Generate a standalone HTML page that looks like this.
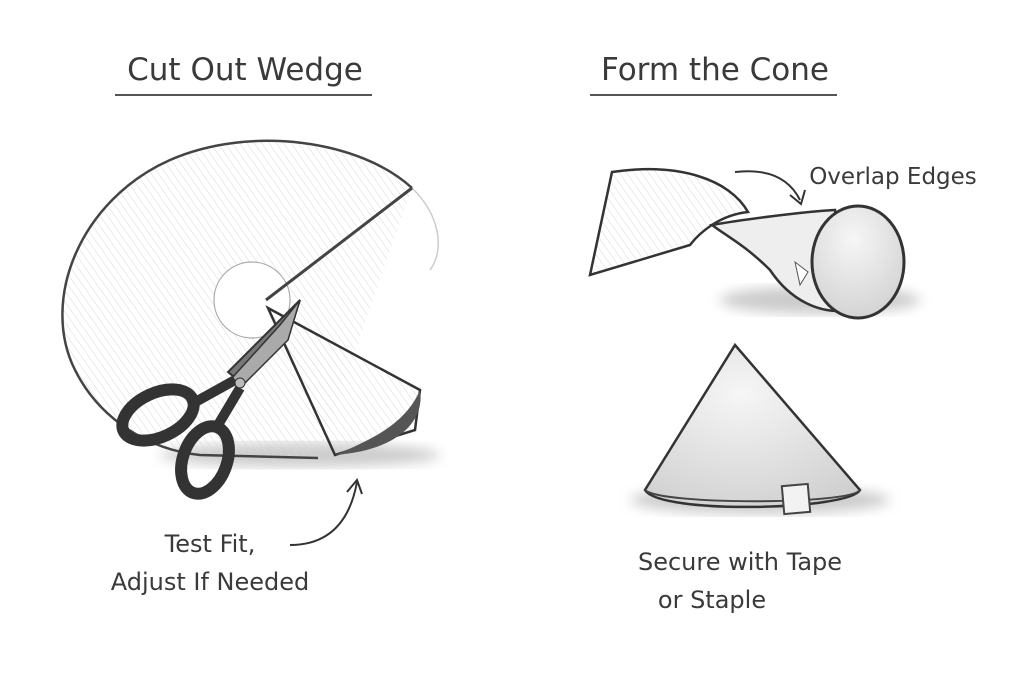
<!DOCTYPE html>
<html><head><meta charset="utf-8"><style>
html,body{margin:0;padding:0;background:#fff;}
svg{display:block}
text{font-family:"DejaVu Sans","Liberation Sans",sans-serif;fill:#3a3a3a}
</style></head><body>
<svg width="1024" height="683" viewBox="0 0 1024 683" xmlns="http://www.w3.org/2000/svg">
<defs>
<pattern id="h" width="6" height="6" patternUnits="userSpaceOnUse" patternTransform="rotate(-35)">
<line x1="0" y1="0" x2="0" y2="6" stroke="#d8d8d8" stroke-width="1"/></pattern>
<radialGradient id="cone" cx="0.45" cy="0.3" r="0.8"><stop offset="0" stop-color="#f6f6f6"/><stop offset="1" stop-color="#cfcfcf"/></radialGradient>
<filter id="b"><feGaussianBlur stdDeviation="6"/></filter>
</defs>
<!-- titles -->
<text x="245" y="80" font-size="31" text-anchor="middle">Cut Out Wedge</text>
<line x1="115" y1="95" x2="372" y2="95" stroke="#555" stroke-width="2"/>
<text x="715" y="80" font-size="31" text-anchor="middle">Form the Cone</text>
<line x1="590" y1="95" x2="837" y2="95" stroke="#555" stroke-width="2"/>

<!-- shadows -->
<ellipse cx="300" cy="455" rx="140" ry="12" fill="#ccc" filter="url(#b)"/>
<ellipse cx="760" cy="500" rx="130" ry="14" fill="#ccc" filter="url(#b)"/>
<ellipse cx="820" cy="300" rx="100" ry="14" fill="#ccc" filter="url(#b)"/>

<!-- left disk -->
<path d="M412,188 C360,140 250,125 170,160 C80,200 40,300 75,370 C100,420 150,450 200,455 L318,458" fill="url(#h)" stroke="#444" stroke-width="2.5"/>
<path d="M412,188 C440,215 445,250 430,270" fill="none" stroke="#ccc" stroke-width="1.5"/>
<circle cx="252" cy="300" r="38" fill="#fff" stroke="#aaa" stroke-width="1.2"/>
<line x1="266" y1="300" x2="412" y2="188" stroke="#444" stroke-width="3"/>
<!-- wedge -->
<polygon points="268,308 420,390 415,430 335,455" fill="url(#h)" stroke="#333" stroke-width="2.5"/>
<path d="M420,390 C425,420 400,450 335,455 C370,440 405,425 420,390Z" fill="#555"/>
<!-- scissors -->
<path d="M300,300 L290,330 L238,380 L228,372Z" fill="#777" stroke="#333" stroke-width="2"/>
<path d="M300,300 L280,325 L232,378 L242,386 L288,340Z" fill="#aaa" stroke="#333" stroke-width="1.5"/>
<ellipse cx="158" cy="415" rx="38" ry="22" transform="rotate(-25 158 415)" fill="none" stroke="#333" stroke-width="12"/>
<ellipse cx="205" cy="460" rx="22" ry="35" transform="rotate(20 205 460)" fill="none" stroke="#333" stroke-width="12"/>
<path d="M190,405 L235,380 M215,430 L240,388" stroke="#333" stroke-width="10"/>
<circle cx="240" cy="383" r="5" fill="#bbb" stroke="#333"/>
<!-- arrow -->
<path d="M290,545 C330,545 350,520 357,482" fill="none" stroke="#333" stroke-width="2"/>
<path d="M347,492 L357,480 L362,494" fill="none" stroke="#333" stroke-width="2"/>
<text x="210" y="552" font-size="24" text-anchor="middle">Test Fit,</text>
<text x="210" y="590" font-size="24" text-anchor="middle">Adjust If Needed</text>

<!-- right top -->
<path d="M590,275 L612,172 C680,162 730,180 748,212 C720,215 700,232 690,245Z" fill="url(#h)" stroke="#333" stroke-width="2.5"/>
<path d="M712,225 C740,220 800,212 835,210 L850,310 C820,315 790,300 770,270 C745,245 725,235 712,225Z" fill="#eee" stroke="#333" stroke-width="2.5"/>
<ellipse cx="858" cy="262" rx="46" ry="56" fill="url(#cone)" stroke="#333" stroke-width="3"/>
<path d="M795,262 L808,272 L800,285Z" fill="#fff" stroke="#555"/>
<path d="M735,172 C770,168 790,180 800,200" fill="none" stroke="#333" stroke-width="2"/>
<path d="M790,195 L801,204 L805,190" fill="none" stroke="#333" stroke-width="2"/>
<text x="893" y="184" font-size="23" text-anchor="middle">Overlap Edges</text>

<!-- right cone -->
<path d="M735,345 L860,490 C850,510 660,515 645,490Z" fill="url(#cone)" stroke="#333" stroke-width="2.5"/>
<path d="M645,490 C660,505 850,505 860,490" fill="none" stroke="#444" stroke-width="2"/>
<rect x="783" y="485" width="26" height="28" fill="#f2f2f2" stroke="#444" stroke-width="2" transform="rotate(-5 796 499)"/>
<text x="740" y="570" font-size="24" text-anchor="middle">Secure with Tape</text>
<text x="712" y="608" font-size="24" text-anchor="middle">or Staple</text>
</svg>
</body></html>
